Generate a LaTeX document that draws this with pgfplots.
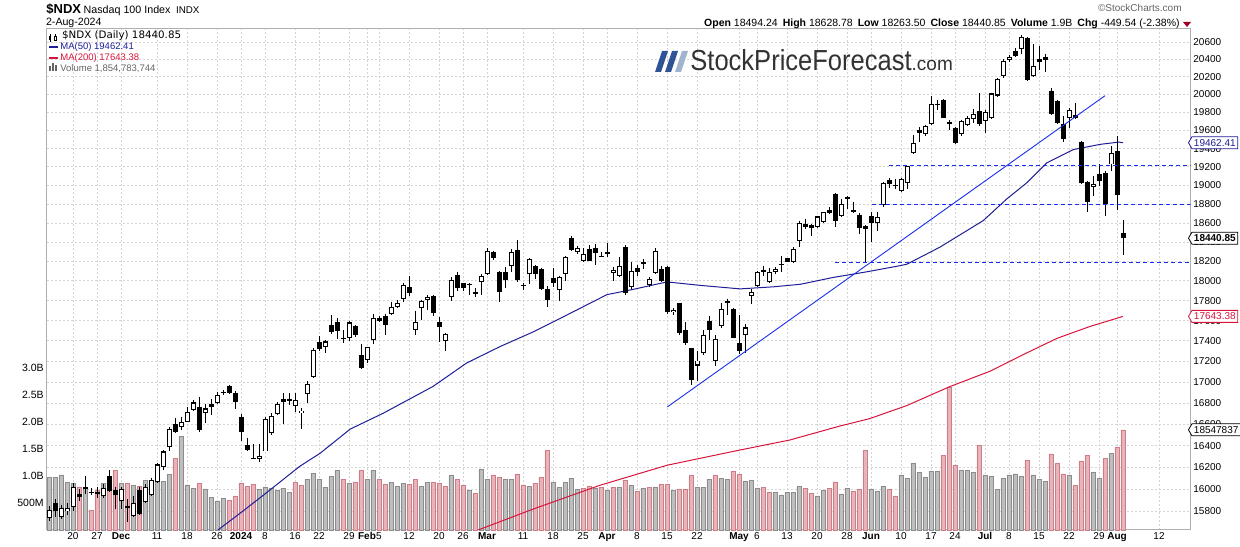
\documentclass[border=0pt]{standalone}
\usepackage{fontspec}
\setmainfont{Liberation Sans}
\newfontfamily\vfont{DejaVu Sans}
\usepackage{graphicx}
\usepackage{pgfplots}
\usepackage{pgfplotstable}
\usetikzlibrary{shapes.symbols}
\pgfplotsset{compat=1.18}

\definecolor{gridc}{RGB}{212,212,212}
\definecolor{framec}{RGB}{175,175,175}
\definecolor{volg}{RGB}{190,190,190}
\definecolor{volgd}{RGB}{140,140,140}
\definecolor{volp}{RGB}{231,180,186}
\definecolor{volpd}{RGB}{205,125,135}
\definecolor{ma50}{RGB}{30,30,150}
\definecolor{ma200}{RGB}{215,20,60}
\definecolor{trend}{RGB}{25,45,235}
\definecolor{logodark}{RGB}{46,84,150}
\definecolor{logolight}{RGB}{160,180,205}
\definecolor{logotext}{RGB}{50,50,50}
\definecolor{hdrgray}{RGB}{100,100,100}
\definecolor{chgred}{RGB}{160,0,40}

% daily candles: i = trading day from 14-Nov-2023, F=1 filled body, V volume (bn), U=1 grey volume bar
\pgfplotstableread{
i O H L C F V U
0 15741 15846 15719 15816 0 0.98 1
1 15877 15908 15755 15809 1 0.98 1
2 15755 15862 15732 15831 0 1.02 1
3 15800 15877 15770 15831 0 0.88 1
4 15841 16060 15800 16024 0 0.86 1
5 15954 16000 15892 15933 1 0.80 0
6 16024 16121 15954 16006 1 0.78 1
7 15979 16015 15945 15970 1 0.37 0
8 15976 16024 15924 15954 1 0.74 0
9 15938 16045 15924 16015 0 0.86 1
10 16115 16176 15975 15984 1 0.85 0
11 15993 16024 15822 15947 1 1.10 0
12 15892 16024 15822 16000 0 0.86 1
13 15846 15908 15708 15831 1 0.86 0
14 15761 15938 15755 15877 0 0.83 1
15 15993 16024 15770 15779 1 0.81 0
16 15883 16045 15877 16024 0 0.92 1
17 15947 16106 15938 16084 0 0.92 1
18 16069 16240 16060 16225 0 0.99 1
19 16204 16361 16176 16345 0 0.90 1
20 16385 16575 16345 16554 0 1.03 1
21 16600 16654 16520 16529 1 1.33 0
22 16575 16669 16545 16619 0 1.74 1
23 16622 16762 16616 16715 0 0.83 1
24 16731 16826 16725 16804 0 0.77 1
25 16757 16858 16529 16545 1 0.86 0
26 16706 16794 16606 16747 0 0.76 1
27 16794 16841 16684 16762 1 0.60 1
28 16800 16908 16794 16875 0 0.54 1
29 16908 16925 16875 16892 1 0.59 1
30 16964 16974 16882 16892 1 0.55 0
31 16898 16918 16740 16810 1 0.63 0
32 16669 16691 16446 16529 1 0.86 0
33 16406 16467 16345 16361 1 0.81 0
34 16285 16413 16276 16276 1 0.85 0
35 16276 16413 16245 16306 0 0.75 1
36 16345 16669 16345 16645 0 0.80 1
37 16520 16700 16500 16676 0 0.78 1
38 16693 16810 16684 16788 0 0.74 1
39 16841 16892 16600 16810 1 0.77 1
40 16841 16892 16778 16818 1 0.70 1
41 16769 16892 16715 16826 0 0.88 0
42 16700 16747 16551 16728 0 0.83 0
43 16882 17006 16800 16983 0 0.94 1
44 17049 17327 17039 17311 0 1.05 1
45 17390 17446 17302 17318 1 0.94 1
46 17337 17413 17279 17394 0 0.79 1
47 17552 17655 17470 17488 1 0.99 1
48 17582 17622 17422 17499 1 1.10 1
49 17430 17505 17380 17417 1 0.93 0
50 17430 17595 17400 17582 0 0.86 1
51 17545 17555 17439 17462 1 0.89 0
52 17261 17368 17126 17136 1 1.10 0
53 17213 17343 17181 17340 0 0.93 1
54 17407 17671 17368 17627 0 1.10 1
55 17627 17650 17588 17600 1 0.93 0
56 17647 17671 17456 17562 1 0.85 0
57 17667 17790 17655 17740 0 0.88 1
58 17740 17807 17724 17774 0 0.81 1
59 17815 17983 17790 17958 0 0.86 1
60 17941 18045 17852 17871 1 0.85 0
61 17512 17700 17456 17588 0 0.93 0
62 17724 17807 17605 17797 0 0.81 1
63 17807 17860 17704 17833 0 0.88 1
64 17850 17860 17650 17674 1 0.88 0
65 17582 17638 17390 17532 1 0.86 0
66 17400 17478 17305 17472 0 0.81 0
67 17841 18036 17797 18007 0 1.02 1
68 18060 18089 17895 17931 1 0.93 0
69 17976 17983 17895 17931 1 0.83 0
70 17968 17983 17860 17965 1 0.74 1
71 17891 17933 17835 17870 1 0.68 0
72 17993 18070 17855 18045 0 1.13 1
73 18067 18335 18060 18304 0 0.94 1
74 18300 18310 18217 18231 1 1.02 0
75 18093 18103 17790 17891 1 0.98 0
76 18087 18140 17927 18010 1 0.94 1
77 18155 18328 18093 18294 0 0.94 1
78 18317 18418 17990 18007 1 1.04 0
79 17958 17983 17912 17955 1 0.83 0
80 18067 18231 17966 18224 0 0.81 1
81 18148 18162 18018 18067 1 0.87 0
82 18120 18127 17906 17914 1 0.98 0
83 17924 17945 17740 17807 1 1.48 0
84 18025 18127 17932 17983 1 0.88 1
85 17905 18046 17800 18036 0 0.79 1
86 18067 18252 18000 18241 0 0.88 1
87 18439 18466 18310 18320 1 0.96 1
88 18300 18362 18276 18335 0 0.75 1
89 18203 18335 18190 18272 0 0.77 0
90 18328 18370 18203 18206 1 0.81 0
91 18335 18380 18162 18286 1 0.78 1
92 18260 18300 18241 18256 1 0.79 0
93 18293 18390 18245 18283 1 0.74 1
94 18079 18140 18000 18114 0 0.79 0
95 18046 18241 18035 18155 0 0.79 1
96 18347 18370 17860 17881 1 0.92 0
97 17941 18190 17924 18103 0 0.83 1
98 18130 18162 18045 18093 1 0.72 0
99 18196 18224 18120 18172 1 0.77 1
100 17955 18036 17932 18018 0 0.79 0
101 18079 18335 18070 18310 0 0.80 1
102 18120 18148 17990 18000 1 0.85 0
103 18146 18155 17672 17689 1 0.85 0
104 17684 17724 17655 17708 0 0.74 1
105 17774 17780 17456 17478 1 0.76 0
106 17505 17588 17359 17375 1 0.76 0
107 17327 17333 16975 17022 1 1.01 0
108 17159 17297 17006 17207 0 0.79 1
109 17279 17505 17262 17462 0 0.79 1
110 17598 17645 17413 17512 1 0.93 1
111 17200 17456 17159 17423 0 1.01 0
112 17548 17774 17523 17715 0 0.96 1
113 17797 17821 17660 17774 1 0.94 1
114 17715 17724 17424 17430 1 1.09 0
115 17375 17660 17269 17305 1 1.03 0
116 17462 17565 17279 17532 0 0.91 1
117 17845 17915 17766 17891 0 0.92 1
118 17952 18103 17941 18093 0 0.77 1
119 18114 18155 18052 18087 1 0.79 0
120 17990 18127 17976 18087 0 0.70 0
121 18093 18140 18070 18120 0 0.70 1
122 18172 18252 18087 18162 1 0.65 1
123 18231 18238 18190 18196 1 0.69 1
124 18190 18345 18182 18328 0 0.70 1
125 18407 18625 18347 18597 0 0.81 1
126 18593 18646 18537 18558 1 0.77 0
127 18576 18593 18460 18548 1 0.68 0
128 18555 18678 18548 18667 0 0.63 1
129 18607 18720 18600 18713 0 0.73 1
130 18742 18767 18695 18706 1 0.77 0
131 18905 18916 18555 18624 1 0.89 0
132 18671 18853 18660 18807 0 0.67 1
133 18853 18881 18747 18870 0 0.77 1
134 18734 18824 18702 18716 1 0.72 0
135 18688 18699 18480 18544 1 0.75 0
136 18565 18579 18180 18537 1 1.48 0
137 18670 18720 18397 18600 1 0.75 1
138 18600 18713 18518 18660 0 0.72 1
139 18793 19035 18767 19029 0 0.81 1
140 19053 19082 18976 19018 1 0.75 0
141 19002 19064 18958 19000 1 0.63 0
142 18940 19082 18930 19072 0 1.02 1
143 19029 19214 18958 19206 0 0.96 1
144 19353 19551 19345 19462 0 1.23 1
145 19608 19637 19469 19572 1 1.07 1
146 19553 19662 19535 19651 0 0.98 1
147 19670 19981 19662 19895 0 1.09 1
148 19898 19943 19823 19895 1 1.09 1
149 19936 19947 19733 19744 1 1.38 0
150 19692 19711 19609 19666 1 2.65 0
151 19630 19637 19447 19462 1 1.20 0
152 19553 19719 19535 19700 0 1.10 1
153 19662 19756 19651 19738 0 1.10 1
154 19727 19838 19681 19782 0 1.07 1
155 19811 20011 19643 19666 1 1.56 0
156 19704 19830 19572 19805 0 1.02 1
157 19733 20019 19726 20011 0 0.99 1
158 19989 20189 19974 20177 0 0.75 1
159 20207 20400 20189 20385 0 0.96 1
160 20393 20446 20369 20431 0 1.02 1
161 20499 20530 20427 20441 1 1.04 1
162 20522 20685 20460 20658 0 1.00 1
163 20646 20658 20150 20161 1 1.30 0
164 20207 20580 20200 20319 0 1.02 1
165 20400 20557 20281 20373 1 0.94 1
166 20431 20466 20251 20388 1 0.90 1
167 20036 20075 19773 19785 1 1.41 0
168 19926 19937 19670 19684 1 1.23 0
169 19666 19755 19469 19506 1 1.04 0
170 19740 19853 19630 19823 0 1.02 1
171 19770 19908 19726 19744 1 0.83 0
172 19476 19483 19010 19021 1 1.28 0
173 19039 19046 18720 18823 1 1.38 0
174 18986 19100 18887 19018 0 1.07 1
175 19118 19225 18993 19046 1 0.95 1
176 19129 19155 18677 18800 1 1.33 0
177 19225 19425 19153 19353 0 1.42 1
178 19370 19537 18734 18890 1 1.54 0
179 18494.24 18628.78 18263.50 18440.85 1 1.855 0
}\ndx

\pgfplotstableread{
i P
27.6 15600
28.2 15638
32 15791
36 15958
41.8 16209
45.2 16330
50.2 16553
55.7 16703
64 16957
69.6 17184
75.2 17345
80.7 17488
86.3 17655
93 17861
97.4 17914
103 17989
108.6 17955
115.2 17920
120.7 17941
125.2 17965
130.7 18036
136.3 18093
141.8 18155
143 18172
148.5 18348
155.7 18624
159.6 18853
163 19029
166.3 19243
170.7 19389
175.2 19444
178.3 19470
179 19462.41
}\mafifty

\pgfplotstableread{
i P
71.0 15600
71.6 15638
80.7 15822
91.8 16036
103 16218
114 16345
123.5 16452
131.8 16582
136.8 16652
143 16776
150.2 16957
156.8 17103
162.4 17266
168 17424
173.5 17541
179 17643.38
}\matwohundred

% 1 px of the reference = 0.5pt
\pgfplotsset{chartbase/.style={
  scale only axis, width=572pt, height=250.5pt,
  at={(23.25pt,8pt)}, anchor=south west,
  xmin=-0.4167, xmax=190.25,
}}
\tikzset{pricetag/.style={signal, signal to=west, signal pointer angle=120, draw=#1, text=#1,
  fill=white, line width=0.4pt, inner xsep=1pt, inner ysep=0.4pt,
  minimum height=6pt, minimum width=24.5pt, anchor=west,
  font=\fontsize{5}{6}\selectfont}}

\begin{document}
\begin{tikzpicture}[x=0.5pt, y=0.5pt]
\useasboundingbox (0,0) rectangle (1240,546);

% grid, frame, price and date labels
\begin{axis}[chartbase,
  ymode=log, ymin=15637.9, ymax=20755.4,
  axis line style={framec, line width=0.4pt},
  ytick={15800,16000,16200,16400,16600,16800,17000,17200,17400,17600,17800,18000,18200,18400,18600,18800,19000,19200,19400,19600,19800,20000,20200,20400,20600},
  yticklabels={15800,16000,16200,16400,16600,16800,17000,17200,17400,17600,17800,18000,18200,18400,18600,18800,19000,19200,19400,19600,19800,20000,20200,20400,20600},
  yticklabel pos=right,
  yticklabel style={anchor=west, inner sep=0pt, xshift=1.25pt},
  xtick={4,8,12,18,23,28,32,36,41,45,50,53,55,60,65,69,73,79,84,89,93,98,103,108,115,118,123,128,133,137,142,147,151,156,160,165,170,175,178,185},
  xticklabels={20,27,\textbf{Dec},11,18,26,\textbf{2024},8,16,22,29,\textbf{Feb},5,12,20,26,\textbf{Mar},11,18,25,\textbf{Apr},8,15,22,\textbf{May},6,13,20,28,\textbf{Jun},10,17,24,\textbf{Jul},8,15,22,29,\textbf{Aug},12},
  xticklabel style={anchor=north, inner sep=0pt, yshift=-1.25pt},
  ticklabel style={font=\fontsize{5}{6}\selectfont},
  tick style={draw=none},
  grid=major,
  major grid style={gridc, dash pattern=on 1pt off 1pt, line width=0.4pt},
]
\end{axis}

% volume
\begin{axis}[chartbase,
  ymin=0, ymax=9.2778,
  axis line style={draw=none},
  xtick=\empty,
  ytick={0.5,1,1.5,2,2.5,3},
  yticklabels={500M,1.0B,1.5B,2.0B,2.5B,3.0B},
  yticklabel style={anchor=east, inner sep=0pt, xshift=-1.25pt, font=\fontsize{5.25}{6}\selectfont},
  tick style={draw=none},
  clip=false,
]
\addplot[ybar, bar width=2.2pt, bar shift=0pt, fill=volg, draw=volgd, line width=0.3pt,
  restrict expr to domain={\thisrow{U}}{0.5:1.5}] table[x=i, y=V] {\ndx};
\addplot[ybar, bar width=2.2pt, bar shift=0pt, fill=volp, draw=volpd, line width=0.3pt,
  restrict expr to domain={\thisrow{U}}{-0.5:0.5}] table[x=i, y=V] {\ndx};
\node[pricetag=black] at ([xshift=-1.25pt]axis cs:190.25,1.8548) {18547837};
\end{axis}

% prices
\begin{axis}[chartbase,
  ymode=log, ymin=15637.9, ymax=20755.4,
  hide axis,
]
\addplot[ma200, line width=0.5pt] table[x=i, y=P] {\matwohundred};
\addplot[ma50, line width=0.5pt] table[x=i, y=P] {\mafifty};
% wicks
\addplot[draw=none, mark=none,
  error bars/.cd, y dir=minus, y explicit, error mark=none,
  error bar style={draw=black, line width=0.5pt}]
  table[x=i, y=H, y error minus expr={\thisrow{H}-\thisrow{L}}] {\ndx};
% filled bodies
\addplot[draw=none, mark=none, restrict expr to domain={\thisrow{F}}{0.5:1.5},
  error bars/.cd, y dir=minus, y explicit, error mark=none,
  error bar style={draw=black, line width=2.5pt}]
  table[x=i, y=O, y error minus expr={max(\thisrow{O}-\thisrow{C},0.0006*\thisrow{O})}] {\ndx};
% hollow bodies
\addplot[draw=none, mark=none, restrict expr to domain={\thisrow{F}}{-0.5:0.5},
  error bars/.cd, y dir=minus, y explicit, error mark=none,
  error bar style={draw=black, line width=2.5pt}]
  table[x=i, y=C, y error minus expr={max(\thisrow{C}-\thisrow{O},0.0006*\thisrow{C})}] {\ndx};
\addplot[draw=none, mark=none, restrict expr to domain={\thisrow{F}}{-0.5:0.5},
  error bars/.cd, y dir=minus, y explicit, error mark=none,
  error bar style={draw=white, line width=1.5pt}]
  table[x=i, y expr={\thisrow{C}*0.99943}, y error minus expr={max(\thisrow{C}*0.99943-\thisrow{O}*1.00057,0)}] {\ndx};
% trend line and levels
\addplot[trend, line width=0.45pt] coordinates {(103.05,16762) (176,19989)};
\addplot[trend, line width=0.45pt, dash pattern=on 2pt off 1.5pt] coordinates {(140,19214) (190.25,19214)};
\addplot[trend, line width=0.45pt, dash pattern=on 2pt off 1.5pt] coordinates {(137.1,18797) (190.25,18797)};
\addplot[trend, line width=0.45pt, dash pattern=on 2pt off 1.5pt] coordinates {(131,18193) (190.25,18193)};
\end{axis}

% value tags on the price scale, drawn over the tick labels
\begin{axis}[chartbase,
  ymode=log, ymin=15637.9, ymax=20755.4,
  hide axis, clip=false,
]
\node[pricetag=ma50] at ([xshift=-1.25pt]axis cs:190.25,19462.41) {19462.41};
\node[pricetag=black, font=\bfseries\fontsize{5}{6}\selectfont] at ([xshift=-1.25pt]axis cs:190.25,18440.85) {18440.85};
\node[pricetag=ma200] at ([xshift=-1.25pt]axis cs:190.25,17643.38) {17643.38};
\end{axis}

% header
\node[anchor=base west, inner sep=0pt, font=\bfseries\fontsize{6.5}{7}\selectfont] at (46,532.7) {\$NDX};
\node[anchor=base west, inner sep=0pt, font=\fontsize{5.35}{6}\selectfont] at (83.3,532.7) {Nasdaq 100 Index};
\node[anchor=base west, inner sep=0pt, font=\fontsize{4.9}{6}\selectfont] at (175.7,532.7) {INDX};
\node[anchor=base west, inner sep=0pt, font=\fontsize{5.3}{6}\selectfont] at (45.7,520) {2-Aug-2024};
\node[anchor=base east, inner sep=0pt, text=hdrgray, font=\fontsize{5}{6}\selectfont] at (1182,534) {\textcopyright StockCharts.com};
\node[anchor=base east, inner sep=0pt, font=\fontsize{5.25}{6}\selectfont] at (1180,519)
  {\textbf{Open} 18494.24\hspace{2.5pt}\textbf{High} 18628.78\hspace{2.5pt}\textbf{Low} 18263.50\hspace{2.5pt}\textbf{Close} 18440.85\hspace{2.5pt}\textbf{Volume} 1.9B\hspace{2.5pt}\textbf{Chg} -449.54 (-2.38\%)};
\fill[chgred] (1183,524) -- (1191,524) -- (1187,519) -- cycle;

% in-chart legend
\draw[line width=0.35pt] (50,512) -- (50,504);
\fill (49,505.5) rectangle (51,510);
\draw[line width=0.35pt] (55,511.5) -- (55,505);
\draw[line width=0.3pt, fill=white] (54,506) rectangle (56,509.5);
\node[anchor=base west, inner sep=0pt, font=\vfont\fontsize{5.15}{6}\selectfont] at (61.7,507.7) {\$NDX (Daily) 18440.85};
\draw[ma50, line width=1pt] (49,499.3) -- (58,499.3);
\node[anchor=base west, inner sep=0pt, text=ma50, font=\fontsize{4.75}{6}\selectfont] at (60,496) {MA(50) 19462.41};
\draw[ma200, line width=1pt] (49,488.3) -- (58,488.3);
\node[anchor=base west, inner sep=0pt, text=ma200, font=\fontsize{4.75}{6}\selectfont] at (60,485) {MA(200) 17643.38};
\fill[hdrgray] (49,474.7) rectangle (51,479.5);
\fill[hdrgray] (52,474.7) rectangle (54,482.5);
\fill[hdrgray] (55,474.7) rectangle (57,480.5);
\node[anchor=base west, inner sep=0pt, text=hdrgray, font=\fontsize{4.75}{6}\selectfont] at (60,474.7) {Volume 1,854,783,744};

% logo
\fill[logodark] (655,474) -- (661,474) -- (668,495) -- (662,495) -- cycle;
\fill[logodark] (665,474) -- (671,474) -- (678,495) -- (672,495) -- cycle;
\fill[logolight] (675,474) -- (681,474) -- (688,495) -- (682,495) -- cycle;
\node[anchor=base west, inner sep=0pt, text=logotext, font=\fontsize{14.5}{15}\selectfont] at (690,475)
  {\scalebox{0.88}[1]{StockPriceForecast}\fontsize{9.5}{10}\selectfont.com};
\end{tikzpicture}
\end{document}
